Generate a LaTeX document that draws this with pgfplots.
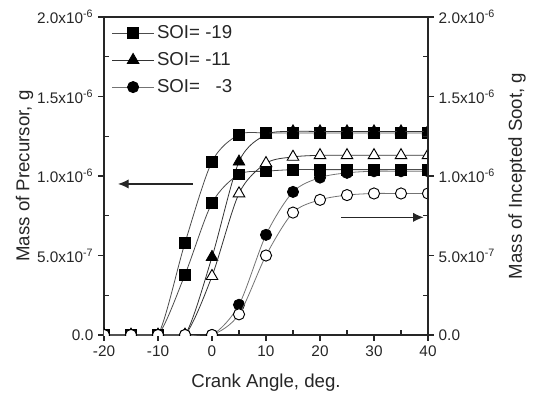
\documentclass[border=0pt]{standalone}
\usepackage{fontspec}
\setmainfont{Liberation Sans}
\usepackage{pgfplots}
\pgfplotsset{compat=1.18}
\usetikzlibrary{arrows.meta}

\begin{document}
\begin{tikzpicture}
\path[use as bounding box] (-78pt,-48.75pt) rectangle (325.5pt,251.25pt);

\pgfplotsset{
  common/.style={
    at={(0,0)}, anchor=south west,
    scale only axis, width=243pt, height=238.5pt,
    xmin=-20, xmax=40, ymin=0, ymax=2e-6,
    scaled y ticks=false,
    ytick={0,5e-7,1e-6,1.5e-6,2e-6},
    yticklabels={0.0, 5.0x10\textsuperscript{-7}, 1.0x10\textsuperscript{-6},
                 1.5x10\textsuperscript{-6}, 2.0x10\textsuperscript{-6}},
    extra y ticks={2.5e-7,7.5e-7,1.25e-6,1.75e-6},
    extra y tick labels={},
    tick align=outside,
    major tick length=4.5pt,
    extra tick style={tick align=inside, major tick length=3.5pt},
    axis line style={line width=0.9pt, black!85},
    every tick/.style={line width=0.9pt, black!85},
    tick label style={font=\fontsize{11.5}{13}\selectfont, text=black!85},
    label style={font=\fontsize{14}{16}\selectfont, text=black!85},
  },
}

\begin{axis}[
  common,
  tick pos=left,
  xtick={-20,-10,...,40},
  xticklabels={-20,-10,0,10,20,30,40},
  extra x ticks={-15,-5,5,15,25,35},
  extra x tick labels={},
  xlabel={Crank Angle, deg.},
  ylabel={Mass of Precursor, g},
  xlabel style={at={(axis description cs:0.5,-0.15)}, anchor=center},
  ylabel style={at={(axis description cs:-0.245,0.5)}, anchor=center},
  clip marker paths=true,
  legend style={draw=none, fill=none, at={(axis cs:-18.6,1.965e-6)}, anchor=north west,
    font=\fontsize{14}{16}\selectfont, text=black!85,
    row sep=5pt, inner sep=0pt},
  legend cell align=left,
  legend image code/.code={
    \draw[mark repeat=2,mark phase=2] plot coordinates {(0cm,0cm) (0.55cm,0cm) (1.1cm,0cm)};},
]
% SOI=-19, upper (precursor)
\addplot[smooth, tension=0.5, line width=0.6pt, black!70, mark=square*,
  mark size=4pt, mark options={solid, fill=black, draw=black}]
  coordinates {(-20,0) (-15,0) (-10,0) (-5,0.58e-6) (0,1.09e-6) (5,1.26e-6) (10,1.27e-6)
               (15,1.27e-6) (20,1.27e-6) (25,1.27e-6) (30,1.27e-6) (35,1.27e-6) (40,1.27e-6)};
\addlegendentry{SOI= -19}
% SOI=-11, upper (precursor)
\addplot[smooth, tension=0.5, line width=0.6pt, black!80, mark=triangle*,
  mark size=5pt, mark options={solid, fill=black, draw=black}]
  coordinates {(-20,0) (-15,0) (-10,0) (-5,0) (0,0.49e-6) (5,1.09e-6) (10,1.26e-6)
               (15,1.28e-6) (20,1.28e-6) (25,1.28e-6) (30,1.28e-6) (35,1.28e-6) (40,1.28e-6)};
\addlegendentry{SOI= -11}
% SOI=-3, upper (precursor)
\addplot[smooth, tension=0.5, line width=0.6pt, black!55, mark=*,
  mark size=4.2pt, mark options={solid, fill=black, draw=black}]
  coordinates {(-20,0) (-15,0) (-10,0) (-5,0) (0,0) (5,0.19e-6) (10,0.63e-6)
               (15,0.90e-6) (20,0.99e-6) (25,1.02e-6) (30,1.03e-6) (35,1.03e-6) (40,1.03e-6)};
\addlegendentry{SOI= \ \ -3}
% SOI=-19, lower (incepted soot)
\addplot[forget plot, smooth, tension=0.5, line width=0.6pt, black!70, mark=square*,
  mark size=4pt, mark options={solid, fill=black, draw=black}]
  coordinates {(-20,0) (-15,0) (-10,0) (-5,0.38e-6) (0,0.83e-6) (5,1.01e-6) (10,1.03e-6)
               (15,1.04e-6) (20,1.04e-6) (25,1.04e-6) (30,1.04e-6) (35,1.04e-6) (40,1.04e-6)};
% SOI=-11, lower (incepted soot)
\addplot[forget plot, smooth, tension=0.5, line width=0.6pt, black!80, mark=triangle*,
  mark size=5pt, mark options={solid, fill=white, draw=black, line width=0.7pt}]
  coordinates {(-20,0) (-15,0) (-10,0) (-5,0) (0,0.37e-6) (5,0.89e-6) (10,1.08e-6)
               (15,1.12e-6) (20,1.13e-6) (25,1.13e-6) (30,1.13e-6) (35,1.13e-6) (40,1.13e-6)};
% SOI=-3, lower (incepted soot)
\addplot[forget plot, smooth, tension=0.5, line width=0.6pt, black!55, mark=*,
  mark size=4.2pt, mark options={solid, fill=white, draw=black, line width=0.7pt}]
  coordinates {(-20,0) (-15,0) (-10,0) (-5,0) (0,0) (5,0.13e-6) (10,0.50e-6)
               (15,0.77e-6) (20,0.85e-6) (25,0.88e-6) (30,0.89e-6) (35,0.89e-6) (40,0.89e-6)};

\draw[line width=0.9pt, black!85, -{Latex[length=8pt,width=7pt]}]
  (axis cs:-3.6,0.95e-6) -- (axis cs:-17.4,0.95e-6);
\draw[line width=0.9pt, black!85, -{Latex[length=8pt,width=7pt]}]
  (axis cs:23.9,0.74e-6) -- (axis cs:39.2,0.74e-6);
\end{axis}

\begin{axis}[
  common,
  axis x line=none,
  axis y line*=right,
  ylabel={Mass of Incepted Soot, g},
  ylabel style={at={(axis description cs:1.275,0.5)}, anchor=center},
]
\end{axis}
\end{tikzpicture}
\end{document}
